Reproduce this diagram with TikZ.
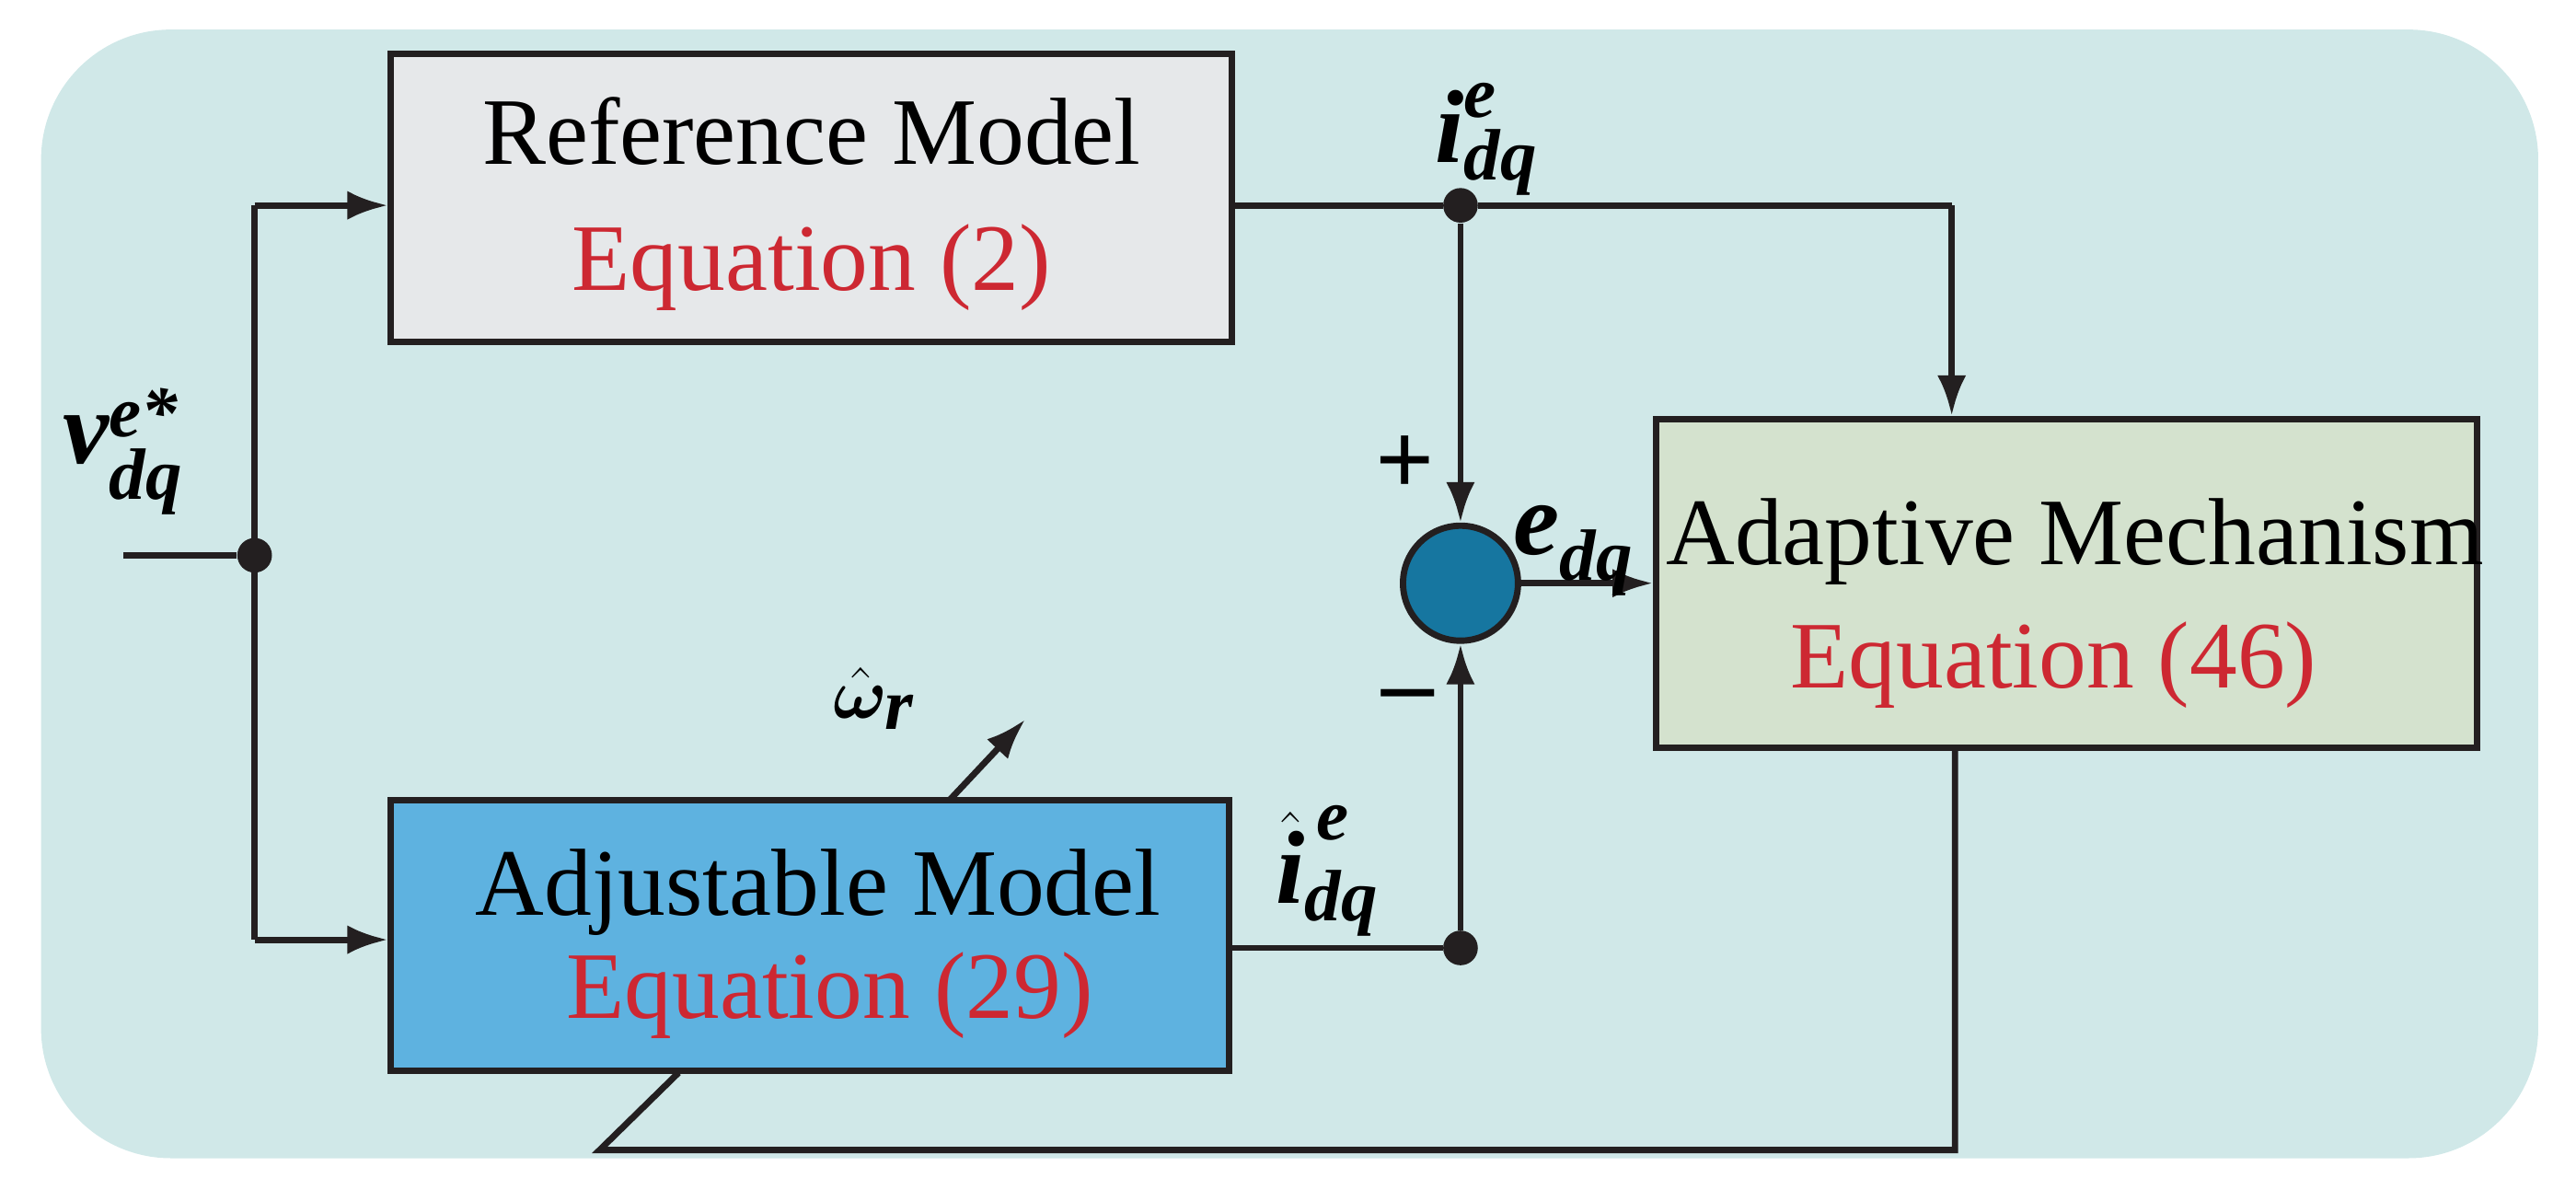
\documentclass[tikz,border=0pt]{standalone}
\usepackage{amsmath,bm}
\usepackage{fontspec}
\setmainfont{Liberation Serif}
\usetikzlibrary{arrows.meta}
\newcommand\bitx[1]{\text{\bfseries\itshape #1}}
\definecolor{bg}{RGB}{208,232,232}
\definecolor{refc}{RGB}{230,232,234}
\definecolor{adjc}{RGB}{94,178,224}
\definecolor{adpc}{RGB}{212,226,206}
\definecolor{circc}{RGB}{22,118,160}
\definecolor{eqred}{RGB}{205,40,50}
\definecolor{ln}{RGB}{35,31,32}
\begin{document}
\begin{tikzpicture}[x=0.02cm,y=-0.02cm,
  blk/.style={draw=ln,line width=2.2pt,inner sep=0pt},
  wire/.style={draw=ln,line width=2.2pt},
  arr/.style={wire,-{Latex[length=14pt,width=10pt]}},
  dot/.style={circle,fill=ln,inner sep=0pt,minimum size=12pt},
  txt/.style={font=\fontsize{33}{38}\selectfont},
  lab/.style={font=\fontsize{36}{40}\selectfont}]
\useasboundingbox (0,0) rectangle (1568,731);
\fill[bg,rounded corners=45] (25,18) rectangle (1545,705);
\node[blk,fill=refc,minimum width=512*0.02cm,minimum height=175*0.02cm] (ref) at (494,120.5) {};
\node[txt] at (494,80) {Reference Model};
\node[txt,text=eqred] at (494,163) {Equation (2)};
\node[blk,fill=adjc,minimum width=510*0.02cm,minimum height=165*0.02cm] (adj) at (493,569.5) {};
\node[txt] at (498,543) {Adjustable Model};
\node[txt,text=eqred] at (505,606) {Equation (29)};
\node[blk,fill=adpc,minimum width=500*0.02cm,minimum height=200*0.02cm] (adp) at (1258,355) {};
\node[txt] at (1263,330) {Adaptive Mechanism};
\node[txt,text=eqred] at (1250,405) {Equation (46)};
\node[circle,draw=ln,line width=2.2pt,fill=circc,minimum size=70*0.02cm,inner sep=0pt] (sum) at (889,355) {};
\coordinate (in) at (75,338);
\node[dot] (j1) at (155,338) {};
\node[dot] (j2) at (889,125) {};
\node[dot] (j3) at (889,577) {};
\coordinate (c1) at (155,125);
\coordinate (c2) at (155,572);
\coordinate (c3) at (1188,125);
\coordinate (c4) at (1190,700);
\coordinate (c5) at (365,700);
\coordinate (c6) at (413,653);
\draw[wire] (in) -- (j1);
\draw[wire] (c1) -- (c2);
\draw[arr] (c1) -- (ref.west |- c1);
\draw[arr] (c2) -- (adj.west |- c2);
\draw[wire] (ref.east |- j2) -- (j2) -- (c3);
\draw[arr] (c3) -- (c3 |- adp.north);
\draw[arr] (j2) -- (sum.north);
\draw[wire] (adj.east |- j3) -- (j3);
\draw[arr] (j3) -- (sum.south);
\draw[arr] (sum.east) -- (adp.west |- sum);
\draw[wire] (c4 |- adp.south) -- (c4) -- (c5) -- (c6);
\coordinate (w1) at (578,487);
\coordinate (w2) at (624,438);
\draw[arr] (w1) -- (w2);
\node[lab] at (75,275) {$\bitx{v}^{\bitx{e*}}_{\bitx{dq}}$};
\node[lab] at (905,85) {$\bitx{i}^{\bitx{e}}_{\bitx{dq}}$};
\node[lab] at (958,335) {$\bitx{e}_{\bitx{dq}}$};
\node[lab] at (808,530) {$\hat{\bitx{i}}^{\,\bitx{e}}_{\bitx{dq}}$};
\node[lab] at (532,425) {$\bm{\hat{\omega}}_{\bitx{r}}$};
\node[lab] at (855,283) {\bfseries +};
\node[lab] at (857,428) {\bfseries --};
\end{tikzpicture}
\end{document}
